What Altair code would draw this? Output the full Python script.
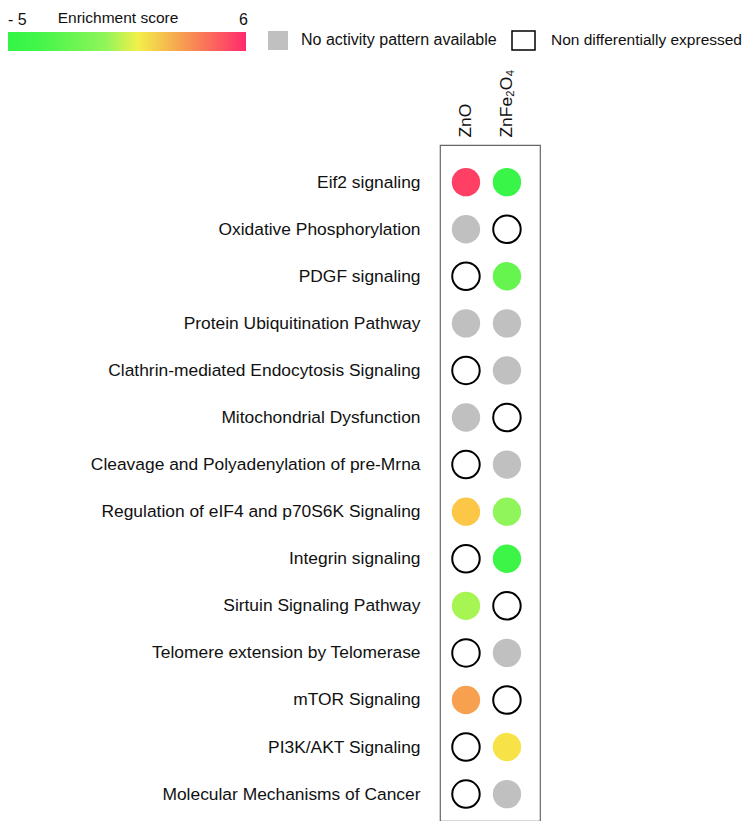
import altair as alt
import pandas as pd

pathways = [
    "Eif2 signaling",
    "Oxidative Phosphorylation",
    "PDGF signaling",
    "Protein Ubiquitination Pathway",
    "Clathrin-mediated Endocytosis Signaling",
    "Mitochondrial Dysfunction",
    "Cleavage and Polyadenylation of pre-Mrna",
    "Regulation of eIF4 and p70S6K Signaling",
    "Integrin signaling",
    "Sirtuin Signaling Pathway",
    "Telomere extension by Telomerase",
    "mTOR Signaling",
    "PI3K/AKT Signaling",
    "Molecular Mechanisms of Cancer",
]
compounds = ["ZnO", "ZnFe₂O₄"]

# status: val = enrichment score, na = no activity pattern, nde = non differentially expressed
zno_status = ["val", "na", "nde", "na", "nde", "na", "nde", "val", "nde", "val", "nde", "val", "nde", "nde"]
zno_score = [5.6, None, None, None, None, None, None, 2.0, None, -0.2, None, 3.0, None, None]
znfe_status = ["val", "nde", "val", "na", "na", "nde", "na", "val", "val", "nde", "na", "nde", "val", "na"]
znfe_score = [-4.5, None, -2.5, None, None, None, None, -0.5, -4.3, None, None, None, 1.3, None]

score_domain = [-5, -3.5, -0.5, 1, 3, 6]
score_range = ["#33f545", "#44f54a", "#90f55a", "#f2f04a", "#f7a050", "#ff2a6c"]

rows = []
for i, p in enumerate(pathways):
    rows.append({"pathway": p, "compound": compounds[0], "status": zno_status[i], "score": zno_score[i]})
    rows.append({"pathway": p, "compound": compounds[1], "status": znfe_status[i], "score": znfe_score[i]})
df = pd.DataFrame(rows)

FONT = "Arial, Liberation Sans, sans-serif"
LABEL_SIZE = 17.4

x_enc = alt.X("compound:N", sort=compounds,
              scale=alt.Scale(type="point", padding=0.72, align=0.44),
              axis=alt.Axis(orient="top", title=None, labelAngle=-90, ticks=False, domain=False,
                            labelPadding=8, labelFontSize=LABEL_SIZE, labelColor="#111", labelFont=FONT))
y_enc = alt.Y("pathway:N", sort=pathways,
              scale=alt.Scale(type="point", padding=0.68, align=0.58),
              axis=alt.Axis(title=None, ticks=False, domain=False, labelPadding=20, labelLimit=600,
                            labelFontSize=LABEL_SIZE, labelColor="#111", labelFont=FONT))

base = alt.Chart(df).encode(x=x_enc, y=y_enc)

vals = base.transform_filter(alt.datum.status == "val").mark_circle(size=804, opacity=1).encode(
    color=alt.Color("score:Q", scale=alt.Scale(domain=score_domain, range=score_range), legend=None)
)
nas = base.transform_filter(alt.datum.status == "na").mark_circle(size=804, opacity=1, color="#c0c0c0")
ndes = base.transform_filter(alt.datum.status == "nde").mark_point(
    shape="circle", filled=False, size=755, stroke="black", strokeWidth=2, opacity=1
)

leg = alt.Chart(pd.DataFrame({"a": [0]}))
stops = [alt.GradientStop(offset=(d - score_domain[0]) / (score_domain[-1] - score_domain[0]), color=c)
         for d, c in zip(score_domain, score_range)]
grad = leg.mark_rect(color=alt.Gradient(gradient="linear", stops=stops, x1=0, x2=1, y1=0, y2=0)).encode(
    x=alt.value(-432), x2=alt.value(-194), y=alt.value(-113), y2=alt.value(-94)
)
t_title = leg.mark_text(text="Enrichment score", fontSize=15.5, font=FONT, align="center", baseline="alphabetic", color="#111").encode(
    x=alt.value(-322), y=alt.value(-122))
t_min = leg.mark_text(text="- 5", fontSize=16, font=FONT, align="left", baseline="alphabetic", color="#111").encode(
    x=alt.value(-432), y=alt.value(-120))
t_max = leg.mark_text(text="6", fontSize=16, font=FONT, align="right", baseline="alphabetic", color="#111").encode(
    x=alt.value(-192), y=alt.value(-120))
sq_na = leg.mark_rect(color="#c0c0c0").encode(
    x=alt.value(-172), x2=alt.value(-152), y=alt.value(-114), y2=alt.value(-95))
t_na = leg.mark_text(text="No activity pattern available", fontSize=16, font=FONT, align="left", baseline="middle", color="#111").encode(
    x=alt.value(-139), y=alt.value(-105))
sq_nde = leg.mark_rect(fill="white", stroke="black", strokeWidth=1.5).encode(
    x=alt.value(72), x2=alt.value(95), y=alt.value(-114), y2=alt.value(-95))
t_nde = leg.mark_text(text="Non differentially expressed", fontSize=15.5, font=FONT, align="left", baseline="middle", color="#111").encode(
    x=alt.value(111), y=alt.value(-105))

chart = alt.layer(vals, nas, ndes, grad, t_title, t_min, t_max, sq_na, t_na, sq_nde, t_nde).properties(
    width=100, height=676,
    autosize=alt.AutoSizeParams(type="none"),
    padding={"left": 432, "top": 137, "right": 206, "bottom": 0},
).configure_view(stroke="#666", strokeWidth=1.2)

chart.save("out.html", embed_options={"renderer": "svg", "actions": False})
